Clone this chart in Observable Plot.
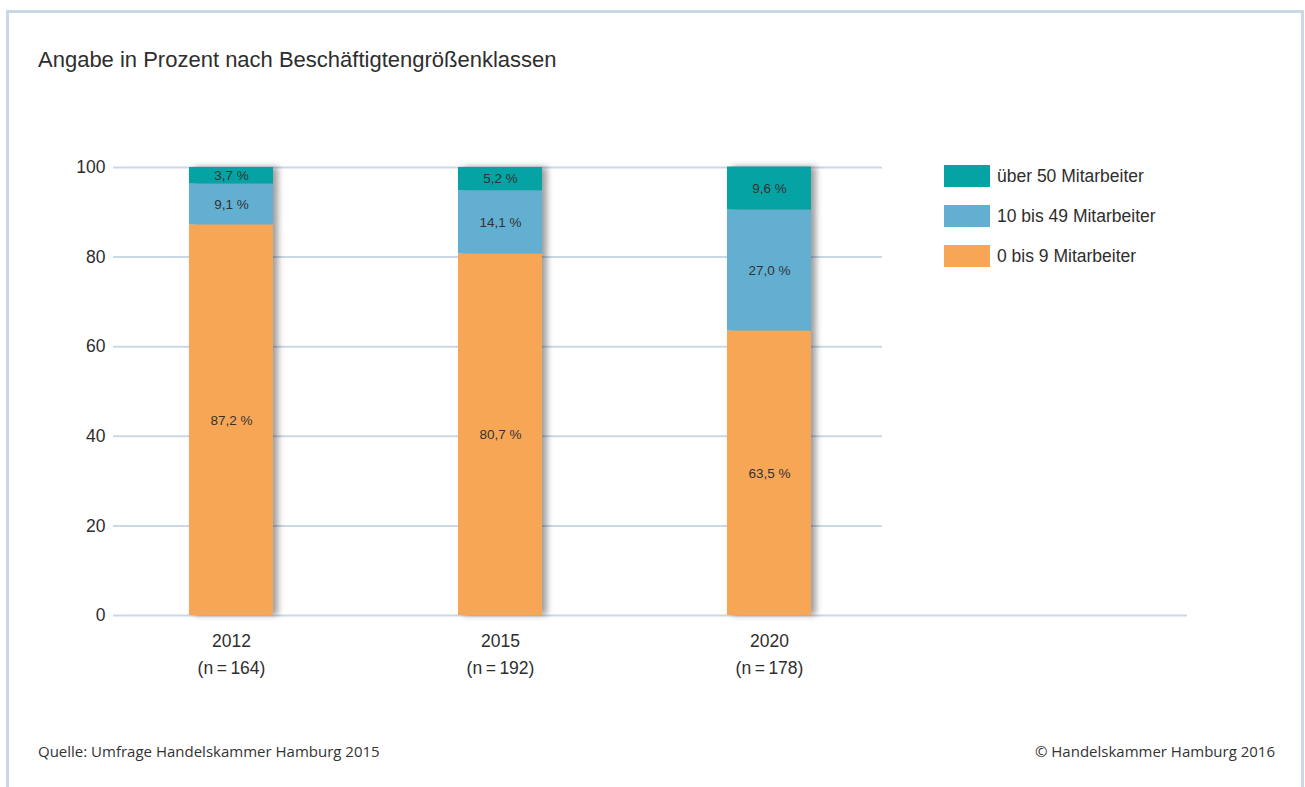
<!DOCTYPE html>
<html>
<head>
<meta charset="utf-8">
<script src="https://cdn.jsdelivr.net/npm/d3@7"></script>
<script src="https://cdn.jsdelivr.net/npm/@observablehq/plot@0.6"></script>
<style>
  body { margin: 0; background: #fff; font-family: "Liberation Sans", Arial, sans-serif; color: #2e2e2e; }
  #page { position: relative; width: 1305px; height: 787px; overflow: hidden; }
  #frame { position: absolute; left: 6px; top: 10px; width: 1292px; height: 800px; border: 3px solid #c9d7e6; border-bottom: none; }
  #title { position: absolute; left: 38px; top: 47px; font-size: 22px; line-height: 26px; white-space: nowrap; }
  #chart { position: absolute; left: 0; top: 100px; }
  .leg { position: absolute; left: 944px; height: 22px; display: flex; align-items: center; font-size: 17.5px; white-space: nowrap; }
  .leg span.sw { width: 46px; height: 22px; margin-right: 7px; display: inline-block; }
  .foot { position: absolute; top: 740px; font-family: "Open Sans", sans-serif; font-size: 15px; line-height: 22px; white-space: nowrap; color: #333; }
</style>
</head>
<body>
<div id="page">
  <div id="frame"></div>
  <div id="title"></div>
  <div id="chart"></div>
  <div id="legend"></div>
  <div class="foot" id="source" style="left:38px"></div>
  <div class="foot" id="copy" style="right:30px"></div>
</div>
<script>
const title = "Angabe in Prozent nach Beschäftigtengrößenklassen";
const years = ["2012", "2015", "2020"];
const samples = [164, 192, 178];
const groups = ["0 bis 9 Mitarbeiter", "10 bis 49 Mitarbeiter", "über 50 Mitarbeiter"];
const small = [87.2, 80.7, 63.5];
const medium = [9.1, 14.1, 27.0];
const large = [3.7, 5.2, 9.6];
const yTicks = [0, 20, 40, 60, 80, 100];
const colors = ["#f7a655", "#62afd2", "#05a3a3"];
const source = "Quelle: Umfrage Handelskammer Hamburg 2015";
const copyright = "© Handelskammer Hamburg 2016";

const series = [small, medium, large];
const rows = years.flatMap((year, i) => groups.map((group, g) => ({year, group, value: series[g][i]})));
const fmt = v => v.toFixed(1).replace(".", ",") + " %";

document.getElementById("title").textContent = title;
document.getElementById("source").textContent = source;
document.getElementById("copy").textContent = copyright;

const chart = Plot.plot({
  width: 1305,
  height: 600,
  marginTop: 67,
  marginBottom: 85,
  marginLeft: 113,
  marginRight: 118,
  style: {fontFamily: "'Liberation Sans', Arial, sans-serif", fontSize: "17.5px", color: "#2e2e2e", background: "transparent"},
  x: {domain: years, range: [113, 882], paddingInner: 0.688, paddingOuter: 0.27, align: 0.52, axis: null},
  y: {domain: [0, 100], axis: null},
  color: {domain: groups, range: colors},
  marks: [
    Plot.ruleY(yTicks.filter(d => d > 0), {y: d => d, stroke: "#c9d7e6", strokeWidth: 2, insetRight: 305}),
    Plot.ruleY([0], {y: d => d, stroke: "#c9d7e6", strokeWidth: 2}),
    Plot.text(yTicks, {y: d => d, text: d => String(d), frameAnchor: "left", textAnchor: "end", dx: -8, fill: "#2e2e2e", fontSize: 17.5}),
    Plot.barY(rows, {x: "year", y: "value", fill: "group", z: "group", order: groups}),
    Plot.text(rows, Plot.stackY({x: "year", y: "value", z: "group", order: groups, text: d => fmt(d.value), fill: "#333", fontSize: 13.5})),
    Plot.text(years, {x: d => d, frameAnchor: "bottom", lineAnchor: "top", dy: 12, lineHeight: 1.54, fill: "#2e2e2e", fontSize: 17.5,
      text: (d, i) => `${d}\n(n\u2009=\u2009${samples[i]})`})
  ]
});
document.getElementById("chart").appendChild(chart);
const barG = chart.querySelector('g[aria-label="bar"]');
if (barG) barG.style.filter = "drop-shadow(5px 0px 3px rgba(0,0,0,0.38))";

const legend = document.getElementById("legend");
[2, 1, 0].forEach((g, k) => {
  const row = document.createElement("div");
  row.className = "leg";
  row.style.top = (165 + 40 * k) + "px";
  const sw = document.createElement("span");
  sw.className = "sw";
  sw.style.background = colors[g];
  const t = document.createElement("span");
  t.textContent = groups[g];
  row.appendChild(sw);
  row.appendChild(t);
  legend.appendChild(row);
});
</script>
</body>
</html>
